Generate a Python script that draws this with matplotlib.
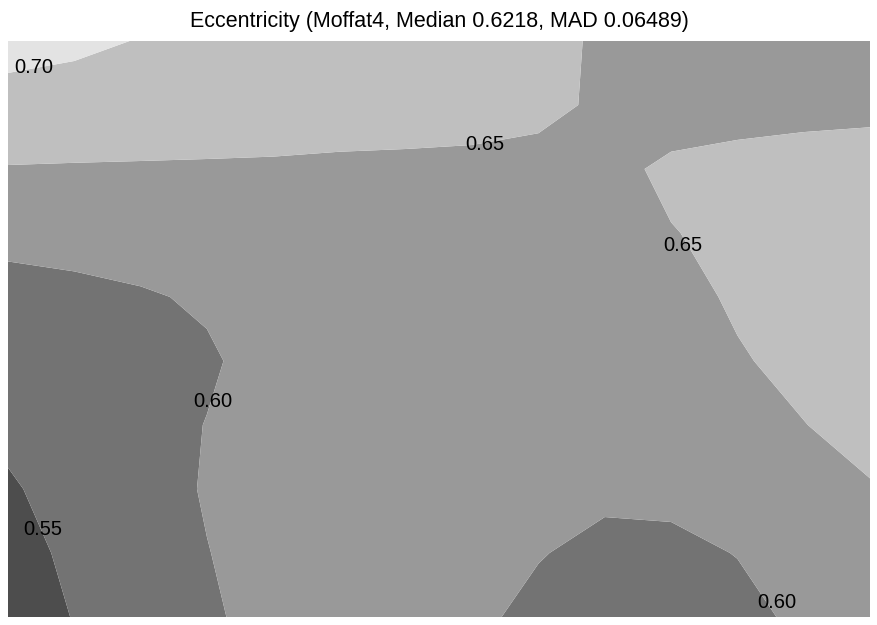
import numpy as np
import matplotlib
matplotlib.use("Agg")
import matplotlib.pyplot as plt

plt.rcParams['font.family'] = ['Liberation Sans', 'DejaVu Sans']

# Grid of eccentricity values (rows top -> bottom, columns left -> right)
ecc_rows = [
    [0.720, 0.710, 0.698, 0.690, 0.685, 0.682, 0.680, 0.678, 0.670, 0.640, 0.635, 0.635, 0.635, 0.635],
    [0.680, 0.678, 0.678, 0.677, 0.675, 0.673, 0.672, 0.670, 0.665, 0.640, 0.623, 0.632, 0.639, 0.642],
    [0.648, 0.647, 0.646, 0.645, 0.644, 0.6415, 0.640, 0.638, 0.631, 0.635, 0.660, 0.665, 0.665, 0.665],
    [0.612, 0.615, 0.620, 0.625, 0.630, 0.632, 0.634, 0.634, 0.632, 0.632, 0.648, 0.662, 0.670, 0.670],
    [0.585, 0.590, 0.596, 0.605, 0.620, 0.628, 0.630, 0.630, 0.630, 0.628, 0.635, 0.656, 0.668, 0.672],
    [0.575, 0.578, 0.585, 0.595, 0.615, 0.625, 0.628, 0.628, 0.627, 0.627, 0.632, 0.646, 0.662, 0.670],
    [0.556, 0.568, 0.585, 0.601, 0.615, 0.622, 0.625, 0.625, 0.624, 0.624, 0.628, 0.636, 0.649, 0.665],
    [0.547, 0.560, 0.583, 0.603, 0.615, 0.620, 0.620, 0.618, 0.612, 0.6078, 0.6085, 0.615, 0.630, 0.647],
    [0.535, 0.558, 0.575, 0.599, 0.615, 0.618, 0.616, 0.612, 0.602, 0.590, 0.592, 0.601, 0.615, 0.630],
    [0.520, 0.552, 0.570, 0.595, 0.612, 0.615, 0.613, 0.608, 0.590, 0.580, 0.580, 0.590, 0.607, 0.620],
]
levels = [0.50, 0.55, 0.60, 0.65, 0.70, 0.75]
band_colors = ['#4d4d4d', '#737373', '#999999', '#bfbfbf', '#e3e3e3']

label_texts = ['0.70', '0.65', '0.65', '0.60', '0.55', '0.60']
label_x = [0.39, 7.19, 10.18, 3.09, 0.53, 11.60]
label_y = [0.42, 1.61, 3.20, 5.63, 7.64, 8.78]

title = "Eccentricity (Moffat4, Median 0.6218, MAD 0.06489)"

Z = np.array(ecc_rows)
ny, nx = Z.shape
x = np.arange(nx)
y = np.arange(ny)

fig = plt.figure(figsize=(8.78, 6.25), dpi=100)
ax = fig.add_axes([8/878, 8/625, 862/878, 576/625])
ax.contourf(x, y, Z, levels=levels, colors=band_colors, antialiased=True)
ax.set_xlim(0, nx - 1)
ax.set_ylim(ny - 1, 0)
ax.axis('off')

for t, lx, ly in zip(label_texts, label_x, label_y):
    ax.text(lx, ly, t, ha='center', va='center', fontsize=14.5, color='black')

ax.set_title(title, fontsize=15.5, pad=10)

fig.savefig("out.png", dpi=100)
